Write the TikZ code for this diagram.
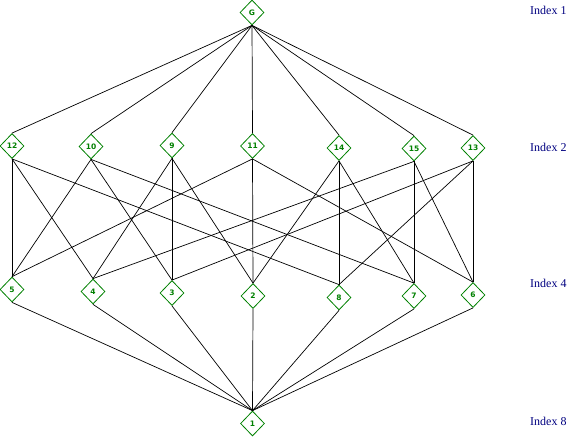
\documentclass[tikz,border=0pt]{standalone}
\usepackage{fontspec}
\setmainfont{Liberation Serif}
\newfontfamily\nodefont{DejaVu Sans}
\usetikzlibrary{shapes.geometric}
\definecolor{nodegreen}{RGB}{0,128,0}
\definecolor{idxblue}{RGB}{0,0,128}
\begin{document}
\begin{tikzpicture}[x=1pt,y=-1pt,
  sg/.style={diamond,draw=nodegreen,line width=0.8pt,minimum width=24pt,minimum height=25pt,inner sep=0pt,
    font=\nodefont\bfseries\fontsize{7.5}{8}\selectfont,text=nodegreen},
  lnk/.style={draw=black,line width=0.7pt},
  idx/.style={font=\fontsize{12}{13}\selectfont,text=idxblue,anchor=west,inner sep=0pt}]
\useasboundingbox (0,0) rectangle (569,436);
% top
\node[sg] (G) at (252,12.5) {G};
% index 2
\node[sg] (n12) at (12,146) {12};
\node[sg] (n10) at (91,146.5) {10};
\node[sg] (n9) at (172,145.5) {9};
\node[sg] (n11) at (252.5,146) {11};
\node[sg] (n14) at (339,148) {14};
\node[sg] (n15) at (414,148.5) {15};
\node[sg] (n13) at (473,148) {13};
% index 4
\node[sg] (n5) at (12,289.5) {5};
\node[sg] (n4) at (93,291.5) {4};
\node[sg] (n3) at (172,293) {3};
\node[sg] (n2) at (253,296) {2};
\node[sg] (n8) at (339,297.5) {8};
\node[sg] (n7) at (414,296) {7};
\node[sg] (n6) at (473,295) {6};
% bottom
\node[sg] (n1) at (252.5,423.5) {1};
% edges G
\foreach \t in {n12,n10,n9,n11,n14,n15,n13} \draw[lnk] (G.south) -- (\t.north);
% edges 1
\foreach \t in {n5,n4,n3,n2,n8,n7,n6} \draw[lnk] (\t.south) -- (n1.north);
% middle edges
\foreach \a/\b in {n12/n5,n12/n4,n12/n8,
                   n10/n5,n10/n3,n10/n7,
                   n9/n4,n9/n3,n9/n2,
                   n11/n5,n11/n2,n11/n6,
                   n14/n8,n14/n2,n14/n7,
                   n15/n4,n15/n7,n15/n6,
                   n13/n3,n13/n8,n13/n6}
  \draw[lnk] (\a.south) -- (\b.north);
% index labels
\node[idx] (i1) at (530,10) {Index 1};
\node[idx] (i2) at (530,147) {Index 2};
\node[idx] (i4) at (530,283.5) {Index 4};
\node[idx] (i8) at (530,421) {Index 8};
\end{tikzpicture}
\end{document}
